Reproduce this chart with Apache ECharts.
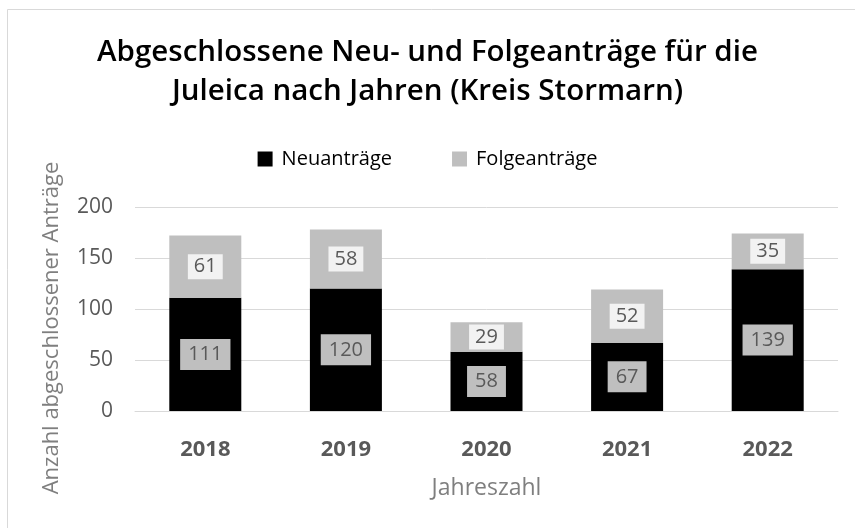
<!DOCTYPE html>
<html><head><meta charset="utf-8">
<script src="https://cdn.jsdelivr.net/npm/echarts@6/dist/echarts.min.js"></script>
<style>html,body{margin:0;padding:0;background:#fff}#c{width:855px;height:528px}</style>
</head><body><div id="c"></div>
<script>
const categories = ['2018','2019','2020','2021','2022'];
const neuantraege = [111,120,58,67,139];
const folgeantraege = [61,58,29,52,35];
const yTicks = [0,50,100,150,200];

const chart = echarts.init(document.getElementById('c'));
const font = '"Open Sans", Roboto, sans-serif';
chart.setOption({
  backgroundColor: '#fff',
  animation: false,
  graphic: [{type:'rect', shape:{x:7.5,y:9.5,width:860,height:540}, style:{fill:'none',stroke:'#d9d9d9',lineWidth:1}}],
  title: {
    text: 'Abgeschlossene Neu- und Folgeanträge für die\nJuleica nach Jahren (Kreis Stormarn)',
    left: 'center', top: 28,
    textStyle: {fontFamily: font, fontSize: 29.5, fontWeight: 600, color: '#000', lineHeight: 39}
  },
  legend: {
    top: 144, left: 'center', itemGap: 60, itemWidth: 15, itemHeight: 15,
    icon: 'rect',
    textStyle: {fontFamily: font, fontSize: 20, color: '#000', padding: [0, 0, 0, 4]},
    data: ['Neuanträge','Folgeanträge']
  },
  grid: {left: 135, right: 17, top: 207, bottom: 117, containLabel: false},
  xAxis: {
    type: 'category', data: categories,
    name: 'Jahreszahl', nameLocation: 'middle', nameGap: 66,
    nameTextStyle: {fontFamily: font, fontSize: 23, color: '#7f7f7f'},
    axisLine: {lineStyle: {color: '#d9d9d9'}}, axisTick: {show: false},
    axisLabel: {fontFamily: font, fontSize: 22, fontWeight: 'bold', color: '#595959', margin: 28}
  },
  yAxis: {
    type: 'value', min: 0, max: 200, interval: 50,
    name: 'Anzahl abgeschlossener Anträge', nameLocation: 'middle', nameGap: 72,
    nameTextStyle: {fontFamily: font, fontSize: 22, color: '#7f7f7f', padding: [0, 38, 0, 0]},
    axisLine: {show: false}, axisTick: {show: false},
    splitLine: {lineStyle: {color: '#d9d9d9'}},
    axisLabel: {fontFamily: font, fontSize: 21, color: '#595959', margin: 22,
      formatter: v => yTicks.includes(v) ? String(v) : ''}
  },
  series: [
    {name: 'Neuanträge', type: 'bar', stack: 's', data: neuantraege, barWidth: 72,
     itemStyle: {color: '#000'},
     label: {show: true, position: 'inside', fontFamily: font, fontSize: 20, color: '#595959',
       backgroundColor: '#bfbfbf', padding: [6,8,5,8]}},
    {name: 'Folgeanträge', type: 'bar', stack: 's', data: folgeantraege, barWidth: 72,
     itemStyle: {color: '#bfbfbf'},
     label: {show: true, position: 'inside', fontFamily: font, fontSize: 20, color: '#595959',
       backgroundColor: '#f2f2f2', padding: [3,6,2,6]}}
  ]
});
</script></body></html>
